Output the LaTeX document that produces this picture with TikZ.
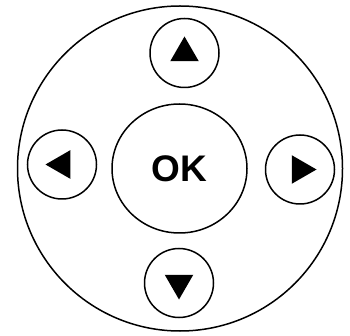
\documentclass[tikz,border=0pt]{standalone}
\usepackage{fontspec}
\usepackage{tikz}
\usetikzlibrary{shapes.geometric}
\newfontfamily\keyfont{Liberation Sans}

\begin{document}
\begin{tikzpicture}[
  x=1pt, y=-1pt,
  ring/.style={draw, circle, line width=1.5pt, minimum size=#1, inner sep=0pt},
  okkey/.style={draw, ellipse, line width=1.5pt, minimum width=135pt,
    minimum height=129pt, inner sep=0pt,
    font=\keyfont\bfseries\fontsize{37}{37}\selectfont},
  tri/.style={regular polygon, regular polygon sides=3, fill=black,
    minimum size=33pt, inner sep=0pt, shape border rotate=#1}
]
\useasboundingbox (0,0) rectangle (350,336);
\node[ring=325pt] (pad) at (180,168.5) {};
\node[okkey] (ok) at (179.5,168.5) {OK};
\node[ring=69pt] (up) at (184.5,53) {};
\node[ring=69pt] (down) at (179,283) {};
\node[ring=69pt] (left) at (62,164.5) {};
\node[ring=69pt] (right) at (300,169.5) {};
\node[tri=0] (uparrow) at (up) {};
\node[tri=180] (downarrow) at (down) {};
\node[tri=90] (leftarrow) at (left) {};
\node[tri=270] (rightarrow) at (right) {};
\end{tikzpicture}
\end{document}
